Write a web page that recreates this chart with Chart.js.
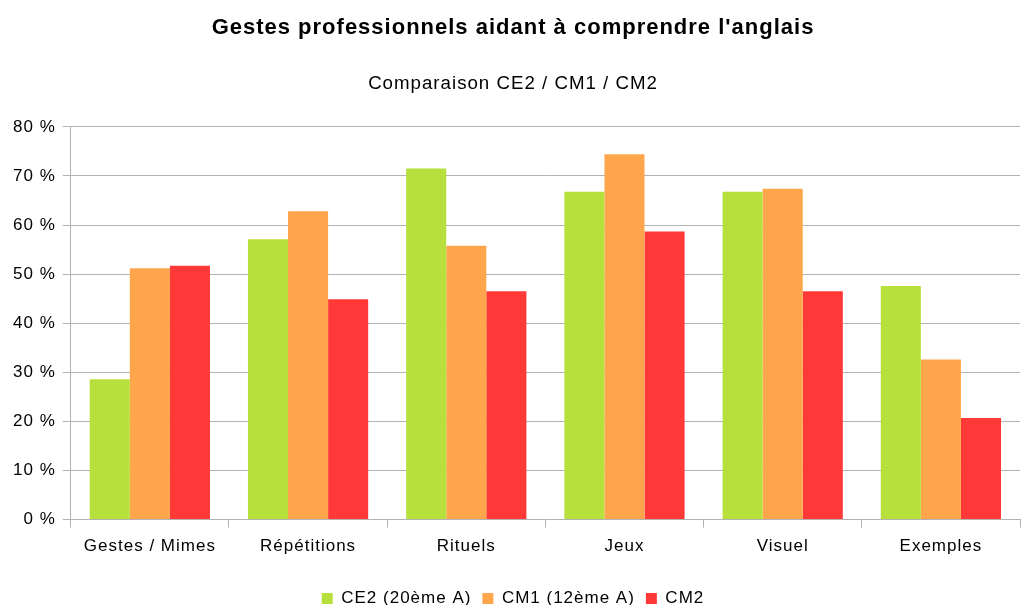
<!DOCTYPE html>
<html><head><meta charset="utf-8">
<script src="https://cdn.jsdelivr.net/npm/chart.js@4"></script>
<style>html,body{margin:0;padding:0;background:#fff}#wrap{width:1022px;height:605px}</style>
</head><body><div id="wrap"><canvas id="c" width="1022" height="605"></canvas></div>
<script>
const categories = ["Gestes / Mimes", "Répétitions", "Rituels", "Jeux", "Visuel", "Exemples"];
const seriesNames = ["CE2 (20ème A)", "CM1 (12ème A)", "CM2"];
const ce2 = [28.6, 57.1, 71.5, 66.8, 66.8, 47.6];
const cm1 = [51.2, 62.8, 55.8, 74.4, 67.4, 32.6];
const cm2 = [51.7, 44.9, 46.5, 58.7, 46.5, 20.7];
const yTicks = [0, 10, 20, 30, 40, 50, 60, 70, 80];
const colors = ["#b8e03c", "#ffa64d", "#ff3838"];

const font = "'Liberation Sans', Arial, sans-serif";
const spacing = {
  id: 'spacing',
  beforeInit: c => { c.ctx.letterSpacing = '1px'; },
  beforeUpdate: c => { c.ctx.letterSpacing = '1px'; },
  beforeDraw: c => { c.ctx.letterSpacing = '1px'; }
};
new Chart(document.getElementById('c'), {
  type: 'bar',
  plugins: [spacing],
  data: {
    labels: categories,
    datasets: [ce2, cm1, cm2].map((d, i) => ({
      label: seriesNames[i], data: d, backgroundColor: colors[i],
      borderWidth: 0, categoryPercentage: 0.76, barPercentage: 1.0
    }))
  },
  options: {
    responsive: false, animation: false,
    layout: { padding: { left: 6, right: 2, top: 0, bottom: -12 } },
    plugins: {
      title: { display: true, text: "Gestes professionnels aidant à comprendre l'anglais",
        color: '#000', font: { family: font, size: 22, weight: 'bold' }, padding: { top: 15, bottom: 31 } },
      subtitle: { display: true, text: "Comparaison CE2 / CM1 / CM2",
        color: '#000', font: { family: font, size: 18.7 }, padding: { top: 0, bottom: 32 } },
      legend: { position: 'bottom',
        labels: { color: '#000', font: { family: font, size: 17 }, boxWidth: 11, boxHeight: 11, padding: 11 } },
      tooltip: { enabled: false }
    },
    scales: {
      y: { min: 0, max: 80,
        afterBuildTicks: ax => { ax.ticks = yTicks.map(v => ({ value: v })); },
        ticks: { color: '#000', font: { family: font, size: 17 }, padding: 7, callback: v => v + ' %' },
        grid: { color: '#b3b3b3', lineWidth: 1, tickLength: 8 },
        border: { color: '#b3b3b3', width: 1 }
      },
      x: {
        afterFit: ax => { ax.height += 13; },
        ticks: { color: '#000', font: { family: font, size: 17 }, padding: 9 },
        grid: { offset: true, drawOnChartArea: false, color: '#b3b3b3', tickLength: 8 },
        border: { color: '#b3b3b3', width: 1 }
      }
    }
  }
});
</script></body></html>
